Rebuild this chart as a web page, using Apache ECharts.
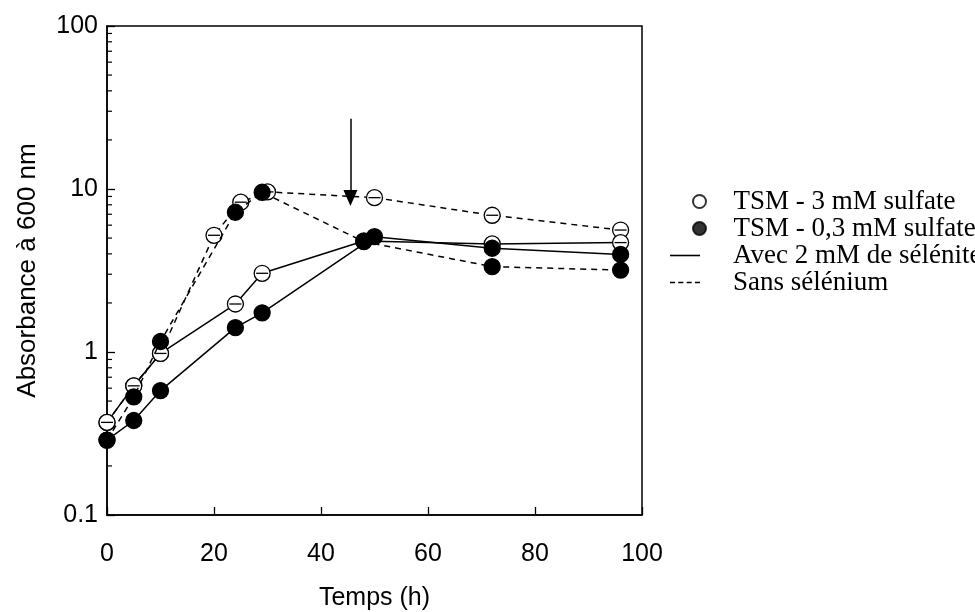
<!DOCTYPE html>
<html>
<head>
<meta charset="utf-8">
<script src="https://cdn.jsdelivr.net/npm/echarts@6/dist/echarts.min.js"></script>
<style>html,body{margin:0;padding:0;background:#fff}#c{width:975px;height:612px}</style>
</head>
<body>
<div id="c"></div>
<script>
// ---- data ----
const xTicks = [0, 20, 40, 60, 80, 100];
const yTicks = [0.1, 1, 10, 100];
const yMinorTicks = [0.2,0.3,0.4,0.5,0.6,0.7,0.8,0.9,2,3,4,5,6,7,8,9,20,30,40,50,60,70,80,90];

const tOpenSolid = [0, 5, 10, 24, 29, 48, 72, 96];
const vOpenSolid = [0.37, 0.62, 0.98, 1.97, 3.04, 4.8, 4.6, 4.69];

const tOpenDashed = [0, 5, 10, 20, 25, 30, 50, 72, 96];
const vOpenDashed = [0.37, 0.62, 0.98, 5.2, 8.3, 9.6, 8.85, 6.9, 5.6];

const tFilledSolid = [0, 5, 10, 24, 29, 50, 72, 96];
const vFilledSolid = [0.288, 0.38, 0.58, 1.41, 1.74, 5.1, 4.33, 3.97];

const tFilledDashed = [0, 5, 10, 24, 29, 48, 72, 96];
const vFilledDashed = [0.288, 0.53, 1.16, 7.2, 9.55, 4.75, 3.34, 3.18];

const arrowX = 45.5, arrowTop = 27, arrowTip = 8.8;

const markerNames = ['TSM - 3 mM sulfate', 'TSM - 0,3 mM sulfate'];
const lineNames = ['Avec 2 mM de sélénite', 'Sans sélénium'];

// ---- build ----
const zip = (t, v) => t.map((x, i) => [x, v[i]]);
const sansFont = 'Liberation Sans, Arial, sans-serif';
const serifFont = 'Liberation Serif, Times New Roman, serif';
const DASH = [6, 5];
const TICK_FS = 25;
const LEG_FS = 27;
const SOLID_ICON = 'path://M0,0h30v1.6h-30z';
const DASH_ICON = 'path://M0,0h5v1.6h-5z M8.33,0h5v1.6h-5z M16.67,0h5v1.6h-5z M25,0h5v1.6h-5z';

function lineSeries(name, t, v, filled, dashed, z) {
  return {
    name: name, type: 'line', data: zip(t, v), z: z,
    symbol: 'circle', symbolSize: 16, showSymbol: true,
    lineStyle: { color: '#000', width: 1.5, type: dashed ? DASH : 'solid' },
    itemStyle: { color: filled ? '#000' : '#fff', borderColor: '#000', borderWidth: 1.3 },
    emphasis: { disabled: true }
  };
}

// small error-bar caps drawn inside open circles
function capSeries(t, v, z) {
  return {
    name: 'caps', type: 'custom', silent: true, z: z,
    data: zip(t, v),
    renderItem: function (params, api) {
      const p = api.coord([api.value(0), api.value(1)]);
      return { type: 'line', z2: 100, shape: { x1: p[0] - 6, y1: p[1], x2: p[0] + 6, y2: p[1] },
               style: { stroke: '#000', lineWidth: 1.3 } };
    }
  };
}

const legText = (pad) => ({ fontFamily: serifFont, fontSize: LEG_FS, lineHeight: LEG_FS, color: '#000', padding: [0, 0, 0, pad] });

const chart = echarts.init(document.getElementById('c'), null, { renderer: 'canvas' });
chart.setOption({
  animation: false,
  backgroundColor: '#fff',
  grid: { left: 107, top: 26, right: 333, bottom: 97, containLabel: false, outerBoundsMode: 'none',
          show: true, borderColor: '#000', borderWidth: 1.5, backgroundColor: 'transparent' },
  legend: [
    {
      data: markerNames,
      orient: 'vertical', left: 687, top: 183,
      itemWidth: 14, itemHeight: 13, itemGap: 0,
      itemStyle: { borderColor: '#000' },
      textStyle: legText(22),
      selectedMode: false
    },
    {
      data: [{ name: lineNames[0], icon: SOLID_ICON }, { name: lineNames[1], icon: DASH_ICON }],
      orient: 'vertical', left: 665, top: 237,
      itemWidth: 30, itemHeight: 13, itemGap: 0,
      itemStyle: { color: '#000', borderWidth: 0 },
      textStyle: legText(28),
      selectedMode: false
    }
  ],
  xAxis: {
    type: 'value', min: 0, max: 100, interval: 20,
    name: 'Temps (h)', nameLocation: 'middle', nameGap: 71,
    nameTextStyle: { fontFamily: sansFont, fontSize: TICK_FS, color: '#000' },
    axisLine: { show: true, lineStyle: { color: '#000', width: 1.5 } },
    axisTick: { show: true, inside: true, length: 8, lineStyle: { color: '#000', width: 1.3 } },
    axisLabel: { fontFamily: sansFont, fontSize: TICK_FS, color: '#000', margin: 27,
      formatter: v => xTicks.includes(v) ? String(v) : '' },
    splitLine: { show: false }
  },
  yAxis: {
    type: 'log', logBase: 10, min: 0.1, max: 100,
    name: 'Absorbance à 600 nm', nameLocation: 'middle', nameGap: 66,
    nameTextStyle: { fontFamily: sansFont, fontSize: 26, color: '#000' },
    axisLine: { show: true, lineStyle: { color: '#000', width: 1.5 } },
    axisTick: { show: true, inside: true, length: 8, lineStyle: { color: '#000', width: 1.3 } },
    axisLabel: { fontFamily: sansFont, fontSize: TICK_FS, color: '#000', margin: 9,
      formatter: v => { const m = yTicks.find(t => Math.abs(t - v) / t < 1e-6); return m === undefined ? '' : String(m); } },
    splitLine: { show: false },
    minorTick: { show: false }
  },
  series: [
    {
      name: 'minorTicks', type: 'custom', silent: true, z: 1,
      data: yMinorTicks.map(v => [0, v]),
      clip: false,
      renderItem: function (params, api) {
        const p = api.coord([api.value(0), api.value(1)]);
        return { type: 'line', shape: { x1: p[0], y1: p[1], x2: p[0] + 5, y2: p[1] },
                 style: { stroke: '#000', lineWidth: 1.2 } };
      }
    },
    lineSeries('openDashed', tOpenDashed, vOpenDashed, false, true, 2),
    capSeries(tOpenDashed, vOpenDashed, 2.5),
    lineSeries('openSolid', tOpenSolid, vOpenSolid, false, false, 3),
    capSeries(tOpenSolid, vOpenSolid, 3.5),
    lineSeries('filledDashed', tFilledDashed, vFilledDashed, true, true, 4),
    lineSeries('filledSolid', tFilledSolid, vFilledSolid, true, false, 5),
    { name: markerNames[0], type: 'scatter', data: [], symbol: 'circle',
      itemStyle: { color: '#fff', borderColor: '#000', borderWidth: 1.5 } },
    { name: markerNames[1], type: 'scatter', data: [], symbol: 'circle',
      itemStyle: { color: '#000', borderColor: '#000', borderWidth: 1 } },
    { name: lineNames[0], type: 'line', data: [], symbol: 'none',
      lineStyle: { color: '#000', width: 1.5, type: 'solid' }, itemStyle: { color: '#000' } },
    { name: lineNames[1], type: 'line', data: [], symbol: 'none',
      lineStyle: { color: '#000', width: 1.5, type: DASH }, itemStyle: { color: '#000' } },
    {
      name: 'arrow', type: 'line', data: [], z: 6,
      markLine: {
        silent: true, symbol: ['none', 'triangle'], symbolSize: [14, 16],
        label: { show: false },
        lineStyle: { color: '#000', width: 1.5, type: 'solid' },
        emphasis: { disabled: true },
        data: [[{ coord: [arrowX, arrowTop] }, { coord: [arrowX, arrowTip] }]]
      }
    }
  ]
});
</script>
</body>
</html>
